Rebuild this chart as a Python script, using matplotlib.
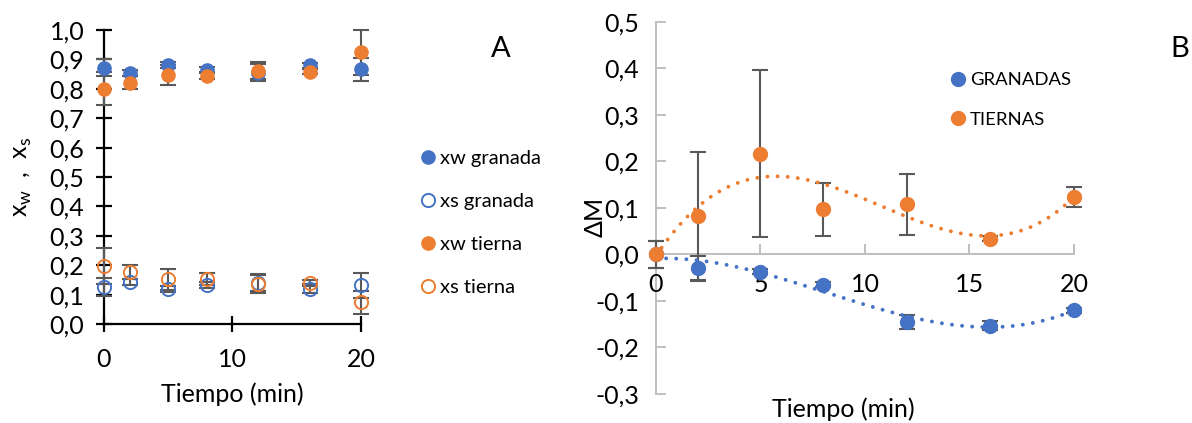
import numpy as np
import matplotlib
matplotlib.use("Agg")
import matplotlib.pyplot as plt
from matplotlib.ticker import FuncFormatter

plt.rcParams['font.family'] = ['Lato', 'DejaVu Sans']

BLUE = '#4472C4'
ORANGE = '#ED7D31'
ERR = '#595959'

# tiempos de muestreo (min)
tiempo = [0, 2, 5, 8, 12, 16, 20]

# fracciones masicas (panel A)
xw_granada = [0.872, 0.855, 0.880, 0.865, 0.855, 0.880, 0.866]
xw_granada_err = [0.030, 0.010, 0.010, 0.008, 0.030, 0.008, 0.040]
xs_granada = [0.125, 0.144, 0.118, 0.132, 0.141, 0.120, 0.132]
xs_granada_err = [0.030, 0.010, 0.010, 0.010, 0.030, 0.015, 0.043]
xw_tierna = [0.800, 0.821, 0.847, 0.844, 0.862, 0.858, 0.924]
xw_tierna_err = [0.056, 0.023, 0.034, 0.010, 0.030, 0.008, 0.076]
xs_tierna = [0.197, 0.177, 0.152, 0.154, 0.137, 0.141, 0.074]
xs_tierna_err = [0.060, 0.023, 0.035, 0.020, 0.030, 0.010, 0.040]

# variacion de masa (panel B)
dm_granadas = [0.0, -0.029, -0.037, -0.065, -0.145, -0.153, -0.120]
dm_granadas_err = [0.030, 0.025, 0.005, 0.005, 0.015, 0.010, 0.005]
dm_tiernas = [0.0, 0.082, 0.217, 0.097, 0.108, 0.034, 0.124]
dm_tiernas_err = [0.030, 0.138, 0.180, 0.057, 0.066, 0.005, 0.021]


def coma(v, pos):
    return f"{v:.1f}".replace('.', ',').replace('−', '-')


fig = plt.figure(figsize=(11.92, 4.23), dpi=100)
ekw = dict(ecolor=ERR, elinewidth=1.5, capsize=5.5, capthick=1.5,
           linestyle='none', zorder=2, clip_on=False)

# ---------- Panel A ----------
axA = fig.add_axes([0.0872, 0.234, 0.2156, 0.695])
axA.errorbar(tiempo, xw_granada, yerr=xw_granada_err, **ekw)
axA.errorbar(tiempo, xs_granada, yerr=xs_granada_err, **ekw)
axA.errorbar(tiempo, xw_tierna, yerr=xw_tierna_err, **ekw)
axA.errorbar(tiempo, xs_tierna, yerr=xs_tierna_err, **ekw)
mk = dict(ms=9.5, zorder=3, clip_on=False, linestyle='none', marker='o')
axA.plot(tiempo, xw_granada, color=BLUE, label='xw granada', **mk)
axA.plot(tiempo, xs_granada, mfc='none', mec=BLUE, mew=1.4, label='xs granada', **mk)
axA.plot(tiempo, xw_tierna, color=ORANGE, label='xw tierna', **mk)
axA.plot(tiempo, xs_tierna, mfc='none', mec=ORANGE, mew=1.4, label='xs tierna', **mk)

axA.set_xlim(0, 20)
axA.set_ylim(0, 1.0)
axA.set_xticks([0, 10, 20])
axA.set_yticks(np.arange(0, 1.01, 0.1))
axA.yaxis.set_major_formatter(FuncFormatter(coma))
for s in ['top', 'right']:
    axA.spines[s].set_visible(False)
for s in ['left', 'bottom']:
    axA.spines[s].set_linewidth(1.6)
    axA.spines[s].set_color('black')
    axA.spines[s].set_zorder(1)
axA.tick_params(direction='inout', length=12, width=1.6, labelsize=18)
axA.tick_params(axis='y', pad=8)
axA.tick_params(axis='x', pad=11)
axA.set_xlabel('Tiempo (min)', fontsize=18)
axA.xaxis.set_label_coords(0.5, -0.2)
axA.set_ylabel(r'x$_\mathregular{w}$  ,  x$_\mathregular{s}$', fontsize=18)
axA.yaxis.set_label_coords(-0.272, 0.50)
axA.legend(loc='upper left', bbox_to_anchor=(0.335, 0.688), bbox_transform=fig.transFigure,
           frameon=False, fontsize=14.5, labelspacing=1.28, handletextpad=0.1,
           handlelength=1.0)
fig.text(0.42, 0.885, 'A', fontsize=21, ha='center', va='center')

# ---------- Panel B ----------
axB = fig.add_axes([0.5503, 0.0686, 0.3507, 0.8794])
axB.errorbar(tiempo, dm_granadas, yerr=dm_granadas_err, **ekw)
axB.errorbar(tiempo, dm_tiernas, yerr=dm_tiernas_err, **ekw)
mkB = dict(ms=10, zorder=3, clip_on=False, linestyle='none', marker='o')
axB.plot(tiempo, dm_granadas, color=BLUE, label='GRANADAS', **mkB)
axB.plot(tiempo, dm_tiernas, color=ORANGE, label='TIERNAS', **mkB)

# lineas de tendencia polinomicas (grado 3)
xs_fit = np.linspace(0, 20, 200)
for serie, col in [(dm_granadas, BLUE), (dm_tiernas, ORANGE)]:
    coef = np.polyfit(tiempo, serie, 3)
    axB.plot(xs_fit, np.polyval(coef, xs_fit), linestyle=(0, (0.01, 2.6)),
             color=col, lw=2.8, dash_capstyle='round', zorder=2.5)

axB.set_xlim(0, 20)
axB.set_ylim(-0.3, 0.5)
axB.set_xticks([0, 5, 10, 15, 20])
axB.set_yticks(np.arange(-0.3, 0.51, 0.1))
axB.yaxis.set_major_formatter(FuncFormatter(coma))
axB.spines['bottom'].set_position(('data', 0))
for s in ['top', 'right']:
    axB.spines[s].set_visible(False)
for s in ['left', 'bottom']:
    axB.spines[s].set_color('#BFBFBF')
    axB.spines[s].set_linewidth(1.4)
    axB.spines[s].set_zorder(1)
axB.tick_params(direction='in', length=7, width=1.4, color='#BFBFBF', labelsize=18)
axB.tick_params(axis='y', pad=12)
axB.tick_params(axis='x', pad=13.5)
axB.set_xlabel('Tiempo (min)', fontsize=18)
axB.xaxis.set_label_coords(0.447, -0.01)
axB.set_ylabel('ΔM', fontsize=18)
axB.yaxis.set_label_coords(-0.117, 0.475)
axB.legend(loc='upper left', bbox_to_anchor=(0.782, 0.869), bbox_transform=fig.transFigure,
           frameon=False, fontsize=13.3, labelspacing=1.28, handletextpad=0.15,
           handlelength=1.0)
fig.text(0.99, 0.885, 'B', fontsize=21, ha='center', va='center')

fig.savefig('out.png', dpi=100)
